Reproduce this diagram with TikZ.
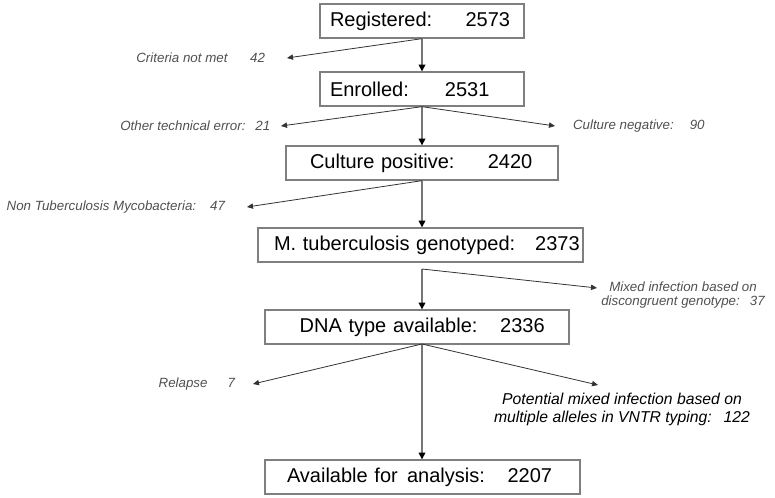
\documentclass[tikz,border=0pt]{standalone}
\usepackage{fontspec}
\setmainfont{Liberation Sans}
\usepackage{xcolor}
\usetikzlibrary{arrows.meta,positioning}
\definecolor{boxgray}{HTML}{7F7F7F}
\definecolor{linegray}{HTML}{767676}
\definecolor{dropgray}{HTML}{333333}
\definecolor{notegray}{HTML}{505050}
\tikzset{
  stage/.style 2 args={draw=boxgray,line width=1pt,minimum height=25.5pt,text width=#1,inner xsep=0pt,align=left,
    execute at begin node={\hspace*{#2}},font=\fontsize{15}{17}\selectfont},
  down/.style={draw=linegray,line width=1pt,-{Triangle[length=5pt,width=5pt,color=black]}},
  drop/.style={draw=dropgray,line width=0.6pt,-{Triangle[length=4.5pt,width=4pt,color=dropgray]}},
  note/.style={font=\fontsize{10}{10.5}\selectfont\itshape,text=notegray,inner sep=0pt,outer xsep=#1},
  note/.default=0pt,
  keynote/.style={font=\fontsize{11.8}{13.5}\selectfont\itshape,text=black,inner sep=0pt,align=center}
}

\begin{document}
\begin{tikzpicture}[x=0.75pt,y=-0.75pt]
    \useasboundingbox (0,0) rectangle (775,498);
    % Nodes
    \node[stage={153pt}{7.5pt}] (reg) at (422,21) {Registered:\hspace{25pt}2573};
    \node[stage={153pt}{7.5pt}] (enr) at (422,89) {Enrolled:\hspace{27pt}2531};
    \node[stage={204pt}{18pt}] (cpos) at (422,163) {Culture positive:\hspace{25pt}2420};
    \node[stage={243.75pt}{12pt}] (mtb) at (420.5,245) {M. tuberculosis genotyped:\hspace{15pt}2373};
    \node[stage={228pt}{26pt}] (dna) at (417,327) {DNA type available:\hspace{17pt}2336};
    \node[stage={236.25pt}{16.5pt}] (avail) at (422.5,477) {Available for\hspace{7pt}analysis:\hspace{17pt}2207};

    \coordinate (f4) at (422,269);
    \coordinate (f5) at (422,344);

    % Exclusions
    \node[note=16.5pt,anchor=east] (crit) at (287,58) {Criteria not met\hspace{17pt}42};
    \node[note=8pt,anchor=east] (other) at (281,126) {Other technical error:\hspace{7.5pt}21};
    \node[note=13.5pt,anchor=west] (culneg) at (555,126) {Culture negative:\hspace{12pt}90};
    \node[note=16.5pt,anchor=east] (ntm) at (247,207) {Non Tuberculosis Mycobacteria:\hspace{10.5pt}47};
    \node[note,align=center] (mix) at (683,295) {Mixed infection based on\\discongruent genotype:\hspace{7.5pt}37};
    \coordinate (mixtip) at (597,288);
    \node[note=13.5pt,anchor=east] (relapse) at (253,384) {Relapse\hspace{15pt}7};
    \node[keynote] (pot) at (622,409) {Potential mixed infection based on\\multiple alleles in VNTR typing:\hspace{9pt}122};
    \coordinate (pottip) at (598,385);

    % Paths
    \draw[down] (reg) -- (enr);
    \draw[down] (enr) -- (cpos);
    \draw[down] (cpos) -- (cpos |- mtb.north);
    \draw[down] (f4) -- (f4 |- dna.north);
    \draw[down] (f5) -- (f5 |- avail.north);

    \draw[drop] (reg.south) -- (crit.east);
    \draw[drop] (enr.south) -- (other.east);
    \draw[drop] (enr.south) -- (culneg.west);
    \draw[drop] (cpos.south) -- (ntm.east);
    \draw[drop] (f4) -- (mixtip);
    \draw[drop] (f5) -- (relapse.east);
    \draw[drop] (f5) -- (pottip);
\end{tikzpicture}
\end{document}
